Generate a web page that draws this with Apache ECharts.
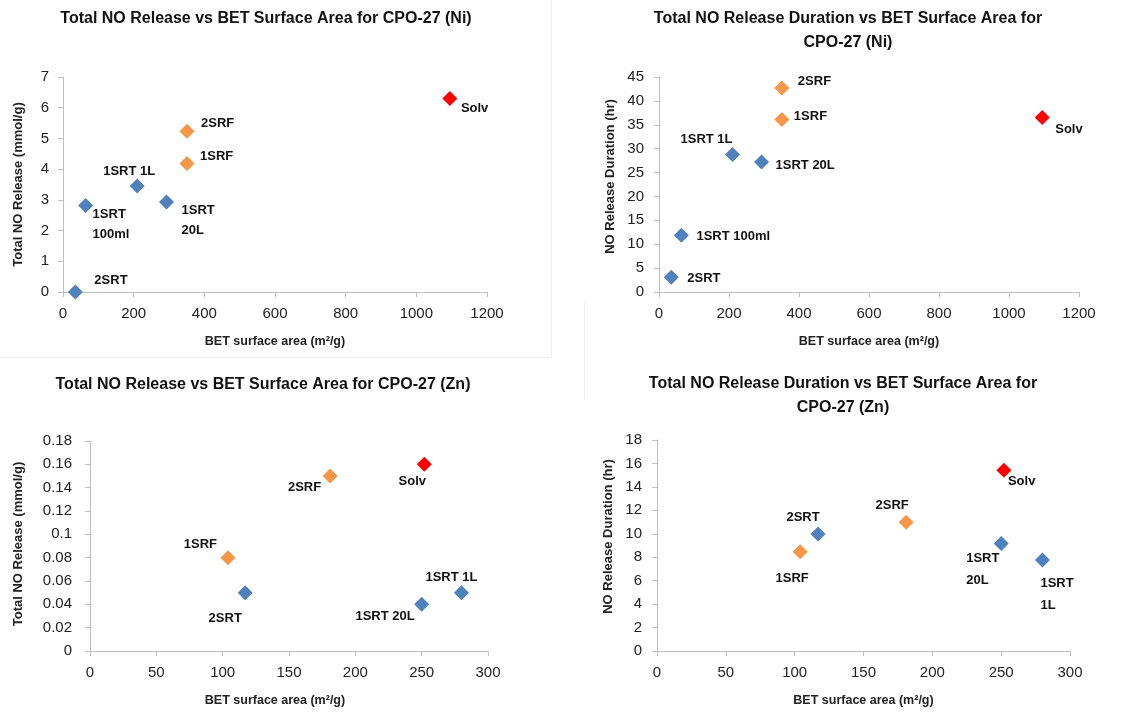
<!DOCTYPE html>
<html>
<head>
<meta charset="utf-8">
<script src="https://cdn.jsdelivr.net/npm/echarts@6/dist/echarts.min.js"></script>
<style>
html,body{margin:0;padding:0;background:#fff;}
#chart{width:1142px;height:713px;}
</style>
</head>
<body>
<div id="chart"></div>
<script>
// ---- Data ----
const niLabels = ['2SRT', '1SRT 100ml', '1SRT 1L', '1SRT 20L', '1SRF', '2SRF', 'Solv'];
const niGroups = ['RT', 'RT', 'RT', 'RT', 'RF', 'RF', 'Solv'];
const niArea = [35, 64, 210, 293, 351, 351, 1095];
const niTotalRelease = [0, 2.82, 3.45, 2.93, 4.18, 5.23, 6.30];
const niDuration = [3.1, 11.9, 28.8, 27.2, 36.1, 42.7, 36.5];

const znLabels = ['1SRF', '2SRT', '2SRF', 'Solv', '1SRT 20L', '1SRT 1L'];
const znGroups = ['RF', 'RT', 'RF', 'Solv', 'RT', 'RT'];
const znArea = [104, 117, 181, 252, 250, 280];
const znTotalRelease = [0.08, 0.05, 0.15, 0.16, 0.04, 0.05];
const znDuration = [8.47, 9.98, 10.98, 15.43, 9.18, 7.76];

const titles = [
  'Total NO Release vs BET Surface Area for CPO-27 (Ni)',
  'Total NO Release Duration vs BET Surface Area for\nCPO-27 (Ni)',
  'Total NO Release vs BET Surface Area for CPO-27 (Zn)',
  'Total NO Release Duration vs BET Surface Area for\nCPO-27 (Zn)'
];
const xName = 'BET surface area (m\u00B2/g)';
const yNames = ['Total NO Release (mmol/g)', 'NO Release Duration (hr)', 'Total NO Release (mmol/g)', 'NO Release Duration (hr)'];

// ---- Styling / layout ----
const groupColor = { RT: '#4F81BD', RF: '#F79646', Solv: '#FF0000' };
const FONT = '"Liberation Sans", Arial, sans-serif';

// label placement per point: [align, dx, dy, wrap, lineHeight]
const place = [
  [['left', 19, -12], ['left', 7, 19, true, 20], ['center', -8, -15], ['left', 15, 18, true, 20], ['left', 13, -7], ['left', 14, -8], ['left', 11, 10]],
  [['left', 16, 1], ['left', 15, 1], ['center', -26, -15], ['left', 14, 3], ['left', 12, -3], ['left', 16, -7], ['left', 13, 12]],
  [['right', -11, -13], ['center', -20, 26], ['right', -9, 11], ['center', -12, 17], ['right', -7, 12], ['center', -10, -15]],
  [['center', -8, 27], ['center', -15, -17], ['center', -14, -17], ['left', 4, 11], ['left', -35, 26, true, 22], ['left', -2, 34, true, 22]]
];

const grids = [
  { left: 63, top: 77, width: 424, height: 215 },
  { left: 659, top: 77, width: 420, height: 215 },
  { left: 90, top: 441, width: 398, height: 210 },
  { left: 657, top: 440, width: 413, height: 211 }
];
const titlePos = [[266, 7], [848, 7], [263, 373], [843, 372]];
const xRanges = [[0, 1200, 200], [0, 1200, 200], [0, 300, 50], [0, 300, 50]];
const yRanges = [[0, 7, 1], [0, 45, 5], [0, 0.18, 0.02], [0, 18, 2]];
const yNameGap = [38, 42, 65, 42];
const yNamePad = [[0, 0, 0, 0], [0, 0, 0, 16], [0, 0, 0, 4], [0, 0, 0, 18]];
const xNamePad = [[0, 0, 0, 0], [0, 0, 0, 0], [0, 28, 0, 0], [0, 0, 0, 0]];
const yLabelMargin = [14, 15, 18, 15];

const panels = [
  { labels: niLabels, groups: niGroups, x: niArea, y: niTotalRelease },
  { labels: niLabels, groups: niGroups, x: niArea, y: niDuration },
  { labels: znLabels, groups: znGroups, x: znArea, y: znTotalRelease },
  { labels: znLabels, groups: znGroups, x: znArea, y: znDuration }
];

const axisLine = { show: true, lineStyle: { color: '#BFBFBF', width: 1 } };
const axisTick = { show: true, inside: false, length: 5, lineStyle: { color: '#BFBFBF' } };
const plainNum = v => String(parseFloat(Number(v).toFixed(6)));

const option = {
  animation: false,
  backgroundColor: '#fff',
  title: titles.map((t, i) => ({
    text: t,
    left: titlePos[i][0],
    top: titlePos[i][1],
    textAlign: 'center',
    padding: 0,
    textStyle: { fontFamily: FONT, fontSize: 16, fontWeight: 'bold', color: '#111', lineHeight: 24 }
  })),
  grid: grids.map(g => Object.assign({ containLabel: false }, g)),
  xAxis: panels.map((p, i) => ({
    type: 'value', gridIndex: i,
    min: xRanges[i][0], max: xRanges[i][1], interval: xRanges[i][2],
    name: xName, nameLocation: 'middle', nameGap: 43,
    nameTextStyle: { fontFamily: FONT, fontSize: 12.5, fontWeight: 'bold', color: '#222', padding: xNamePad[i] },
    axisLine: axisLine, axisTick: axisTick, splitLine: { show: false },
    axisLabel: { fontFamily: FONT, fontSize: 15, color: '#222', margin: 14, formatter: plainNum }
  })),
  yAxis: panels.map((p, i) => ({
    type: 'value', gridIndex: i,
    min: yRanges[i][0], max: yRanges[i][1], interval: yRanges[i][2],
    name: yNames[i], nameLocation: 'middle', nameGap: yNameGap[i], nameRotate: 90,
    nameTextStyle: { fontFamily: FONT, fontSize: 13, fontWeight: 'bold', color: '#222', padding: yNamePad[i] },
    axisLine: axisLine, axisTick: axisTick, splitLine: { show: false },
    axisLabel: { fontFamily: FONT, fontSize: 15, color: '#222', margin: yLabelMargin[i], formatter: plainNum }
  })),
  series: panels.map((p, i) => ({
    type: 'scatter',
    xAxisIndex: i, yAxisIndex: i,
    symbol: 'diamond', symbolSize: 15,
    itemStyle: { opacity: 1 },
    emphasis: { disabled: true },
    data: p.x.map((xv, k) => {
      const pl = place[i][k];
      const txt = pl[3] ? p.labels[k].replace(' ', '\n') : p.labels[k];
      return {
        name: p.labels[k],
        value: [xv, p.y[k]],
        itemStyle: { color: groupColor[p.groups[k]], opacity: 1 },
        label: {
          show: true, position: 'inside', formatter: txt,
          align: pl[0], verticalAlign: 'middle', offset: [pl[1], pl[2]],
          lineHeight: pl[4] || 16,
          fontFamily: FONT, fontSize: 13, fontWeight: 'bold', color: '#111'
        }
      };
    })
  })),
  graphic: [
    { type: 'line', shape: { x1: 551.5, y1: 0, x2: 551.5, y2: 357.5 }, style: { stroke: '#eeeeee', lineWidth: 1 }, silent: true },
    { type: 'line', shape: { x1: 0, y1: 357.5, x2: 551.5, y2: 357.5 }, style: { stroke: '#eeeeee', lineWidth: 1 }, silent: true },
    { type: 'line', shape: { x1: 584.5, y1: 300, x2: 584.5, y2: 400 }, style: { stroke: '#f2f2f2', lineWidth: 1 }, silent: true }
  ]
};

const chart = echarts.init(document.getElementById('chart'), null, { renderer: 'canvas' });
chart.setOption(option);
</script>
</body>
</html>
